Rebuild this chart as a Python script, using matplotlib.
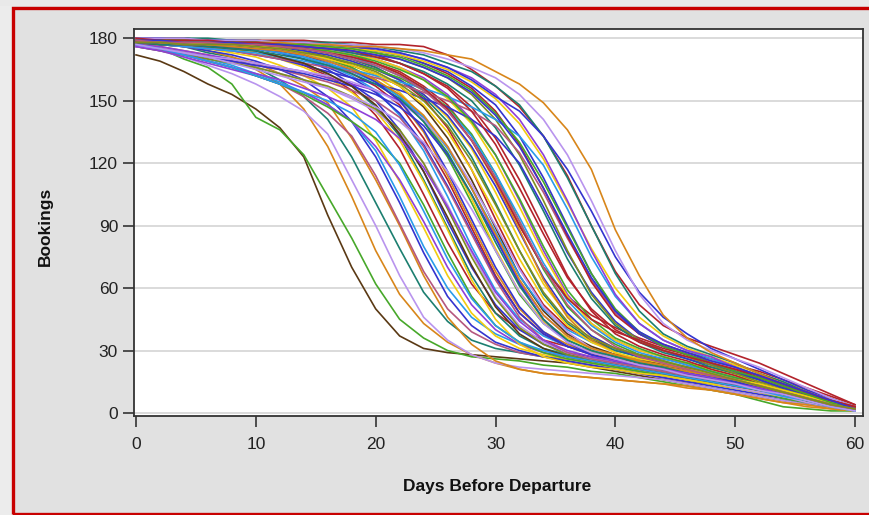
import matplotlib
matplotlib.use("Agg")
import matplotlib.pyplot as plt
from matplotlib.patches import Rectangle

# ---------------- data ----------------
days = list(range(0, 61, 2))
x_ticks = [0, 10, 20, 30, 40, 50, 60]
y_ticks = [0, 30, 60, 90, 120, 150, 180]
x_label = "Days Before Departure"
y_label = "Bookings"

palette = {
    "blue": "#3434CF", "red": "#B3232B", "teal": "#1C7F70", "brown": "#5A3914",
    "purple": "#8F3FD8", "olive": "#7F8E1F", "sky": "#2A9BEA", "pink": "#B5577F",
    "orange": "#D8861A", "green": "#47A82A", "lavender": "#B994EE", "yellow": "#F2CC10",
}

series_colors = [
    "brown", "green", "orange", "lavender", "teal", "orange", "pink", "blue", "sky", "yellow",
    "purple", "green", "red", "teal", "blue", "yellow", "lavender", "sky", "olive", "red",
    "blue", "orange", "pink", "green", "purple", "yellow", "brown", "sky", "red", "blue",
    "teal", "yellow", "lavender", "red", "blue", "green", "orange", "purple", "sky", "yellow",
    "red", "teal", "blue", "olive", "pink", "red", "blue", "sky", "yellow", "purple",
    "red", "teal", "blue", "lavender", "orange", "brown", "green", "teal", "red", "blue",
    "purple", "yellow", "green", "sky", "red", "orange", "blue", "lavender", "pink", "olive",
]

bookings = [
    [172,169,164,158,153,146,137,123,95,70,50,37,31,29,28,27,26,25,24,22,20,18,16,14,12,10,8,6,4,3,2],
    [178,175,170,166,158,142,136,124,104,84,62,45,36,30,27,26,25,23,22,20,19,17,15,13,11,9,6,3,2,1,1],
    [178,176,174,172,169,165,158,146,128,104,78,57,43,34,28,24,21,19,18,17,16,15,14,13,11,9,7,5,3,2,1],
    [177,174,171,167,163,158,152,145,134,112,90,66,46,35,28,24,22,21,20,19,18,17,16,14,12,10,8,6,4,3,2],
    [179,177,176,173,171,166,160,152,141,123,101,79,58,44,35,31,29,27,26,24,22,20,18,17,15,13,11,9,7,5,3],
    [179,177,176,174,171,168,163,157,149,132,112,90,66,46,33,25,21,19,18,17,16,15,14,12,11,9,7,5,4,2,1],
    [177,175,172,169,166,162,158,152,144,133,114,91,68,50,39,33,29,27,25,23,21,19,17,15,14,12,10,8,6,4,2],
    [179,178,176,174,172,169,165,160,152,140,123,101,77,56,42,34,30,27,25,23,21,19,17,15,13,11,9,7,5,3,2],
    [177,175,173,170,167,163,159,154,148,140,126,104,80,60,46,38,33,30,28,26,24,22,20,18,16,14,11,9,6,4,2],
    [179,178,177,175,173,171,167,162,156,147,131,111,89,66,48,37,31,28,26,24,22,20,18,16,14,12,10,8,6,4,2],
    [176,174,171,168,165,162,158,154,148,140,128,112,92,70,52,40,33,29,27,25,23,21,19,17,15,13,11,9,6,4,2],
    [177,175,172,169,166,162,158,153,147,140,132,120,100,77,56,42,34,29,26,24,22,20,18,16,14,12,10,7,5,3,1],
    [179,179,178,177,176,174,171,167,162,155,143,127,105,82,62,48,40,35,32,30,28,26,24,22,19,17,14,11,8,5,3],
    [179,178,178,177,175,174,171,168,163,157,147,133,112,89,66,48,37,31,28,26,24,22,20,18,16,14,12,9,7,4,2],
    [180,179,178,177,176,175,173,170,165,158,150,136,116,92,70,52,40,33,29,27,25,23,21,19,17,15,12,10,7,4,2],
    [178,177,177,176,175,173,170,166,161,154,145,131,111,88,64,45,33,27,24,22,21,19,18,16,14,12,10,8,6,3,1],
    [177,175,173,171,169,166,163,160,156,151,145,135,120,100,77,56,42,34,29,26,24,21,19,17,15,12,10,8,5,3,1],
    [179,178,178,177,176,175,174,171,167,162,155,143,126,104,80,59,45,37,32,29,27,25,23,21,19,16,14,11,8,5,2],
    [176,174,172,170,168,166,163,160,157,152,146,136,120,98,75,55,41,33,28,25,23,21,19,17,15,13,11,9,6,4,2],
    [179,179,178,178,177,176,174,172,168,163,157,148,132,112,89,66,48,38,32,28,26,24,22,20,18,15,13,10,7,4,2],
    [178,178,177,177,176,175,173,170,166,161,154,144,129,109,87,65,48,38,32,29,27,25,23,21,18,16,13,10,8,5,2],
    [179,178,178,177,177,176,175,173,170,166,159,150,135,114,91,68,50,39,33,29,26,23,21,19,17,15,12,10,7,4,2],
    [177,175,173,171,169,167,165,162,159,155,150,142,128,108,86,64,46,35,29,26,24,22,20,18,16,14,12,10,7,5,3],
    [179,178,178,178,177,176,175,173,170,166,160,152,140,123,101,78,57,43,35,30,27,25,22,19,17,14,11,9,6,4,2],
    [177,176,174,172,170,168,166,164,161,158,155,150,142,128,108,85,63,47,37,31,28,26,24,21,18,16,13,10,7,4,2],
    [179,179,178,178,177,176,175,174,171,167,162,154,142,125,103,79,58,44,36,31,28,26,24,22,20,17,15,12,9,6,3],
    [179,179,178,178,178,177,176,174,171,167,163,157,147,132,112,89,66,49,38,32,28,26,23,21,18,16,13,10,7,4,2],
    [178,178,177,176,176,175,173,171,168,164,159,152,142,127,108,87,66,50,40,34,30,27,25,22,20,17,14,11,8,5,2],
    [179,179,179,178,178,177,177,175,173,170,166,160,151,137,117,93,70,52,41,35,31,28,26,24,22,19,17,14,10,6,3],
    [177,175,173,171,169,167,165,163,160,157,153,147,138,124,105,84,62,45,34,28,25,23,21,19,17,15,12,10,7,4,2],
    [179,179,178,178,178,177,176,175,173,170,166,160,152,140,123,101,78,57,43,35,30,27,24,21,18,15,12,9,6,4,2],
    [178,178,178,177,177,176,175,174,172,169,165,160,153,142,127,106,83,62,47,37,31,28,25,22,19,17,14,11,8,5,2],
    [176,175,173,171,170,168,166,164,162,159,155,149,141,128,110,90,69,51,39,31,26,23,21,19,17,15,13,10,7,4,2],
    [180,179,179,178,178,178,177,176,174,172,168,164,157,148,133,113,90,70,56,47,41,36,32,28,24,20,16,12,8,5,3],
    [179,178,178,177,177,176,175,174,172,169,165,160,153,143,128,109,87,65,48,37,31,27,24,22,19,16,13,10,7,4,2],
    [178,178,177,177,176,176,175,173,171,168,165,161,155,147,134,115,92,69,51,40,33,28,25,21,18,15,12,9,6,3,1],
    [179,179,178,178,177,177,176,175,173,171,168,163,156,146,131,111,88,64,46,35,29,25,22,20,18,16,13,11,8,5,3],
    [180,179,179,178,178,178,177,176,175,173,170,166,161,153,141,124,102,78,57,43,35,30,27,23,20,16,13,10,7,4,2],
    [179,179,178,178,177,177,176,175,173,171,167,162,156,146,133,115,94,72,54,42,34,29,26,23,20,17,14,11,8,5,2],
    [178,178,178,177,177,176,176,175,174,172,170,166,160,151,139,121,99,76,56,43,35,30,27,24,21,18,15,12,8,5,2],
    [180,179,179,179,178,178,178,177,176,174,172,168,163,157,147,132,112,89,66,49,38,32,28,25,21,18,14,11,8,5,3],
    [179,179,178,178,178,177,177,176,175,173,171,168,164,158,150,137,119,97,74,55,42,34,29,26,22,19,16,12,9,5,2],
    [178,177,176,175,174,172,170,167,164,161,158,155,151,147,141,133,120,99,77,58,44,35,30,26,23,20,17,13,9,6,3],
    [180,180,179,179,178,178,178,177,176,175,173,170,166,161,153,141,124,102,78,57,43,35,30,27,23,19,15,12,8,5,2],
    [178,177,176,175,174,172,170,168,166,164,161,158,154,150,145,138,125,106,84,64,48,38,32,28,25,22,18,14,10,6,3],
    [180,180,180,179,179,179,178,178,177,176,174,172,168,163,156,145,129,108,85,63,47,38,33,29,26,23,20,16,12,8,4],
    [180,180,180,179,179,178,178,178,177,176,174,172,168,164,157,148,133,113,90,67,49,38,32,28,24,20,16,12,9,5,3],
    [178,177,176,175,174,173,171,169,167,165,162,159,156,152,147,141,133,119,98,75,56,43,35,30,26,22,18,14,10,6,3],
    [180,179,179,179,178,178,177,177,176,175,174,172,169,165,159,151,139,122,101,79,60,46,37,31,27,23,19,15,11,7,3],
    [180,180,180,179,179,178,178,178,177,176,175,173,170,166,161,153,141,124,102,78,57,43,35,30,27,22,18,14,10,6,3],
    [180,180,180,179,179,179,179,179,178,178,177,177,176,172,165,157,147,133,114,90,68,52,42,36,32,28,24,19,14,9,4],
    [180,180,180,180,179,179,178,178,178,177,176,174,172,168,164,157,148,133,113,90,67,49,38,32,28,24,19,15,10,6,3],
    [180,180,179,179,179,178,178,177,177,176,175,173,170,166,160,152,145,133,117,97,75,58,46,38,31,26,21,16,11,7,3],
    [180,180,180,179,179,179,178,178,177,177,176,175,173,170,166,161,153,141,124,102,78,57,43,35,30,26,22,17,12,7,3],
    [179,179,179,178,178,178,178,177,177,176,176,175,174,172,170,164,158,149,136,117,88,66,47,36,29,24,19,14,10,6,3],
    [178,177,177,176,175,174,171,168,163,157,148,134,116,94,71,51,38,31,27,25,23,21,19,17,15,13,11,9,6,4,2],
    [179,179,178,178,178,177,176,175,174,172,169,165,160,152,140,124,103,80,59,45,36,31,27,24,20,17,14,11,8,5,2],
    [178,177,177,176,175,174,172,170,167,163,158,151,140,125,105,82,61,45,35,30,27,24,22,19,17,14,12,9,7,4,2],
    [179,179,178,178,178,177,176,175,173,171,168,163,156,146,131,112,90,70,55,45,39,35,31,28,24,21,17,13,9,6,3],
    [178,178,177,177,176,175,174,172,169,165,159,150,136,116,93,70,51,39,32,28,25,23,21,19,17,15,12,10,7,4,2],
    [176,174,172,169,166,163,160,156,152,147,141,132,118,99,78,58,44,35,30,27,25,23,21,19,17,14,12,9,7,4,1],
    [179,178,178,177,177,176,175,173,170,167,163,157,148,135,117,96,74,55,42,34,29,26,24,21,19,16,14,11,8,5,2],
    [179,179,179,178,178,178,177,177,176,175,173,171,167,162,155,144,130,111,89,67,50,39,32,28,24,20,17,13,9,5,2],
    [177,175,172,169,166,162,158,154,150,144,135,119,97,74,55,42,34,30,27,25,23,21,19,17,15,13,11,8,6,3,1],
    [180,179,179,179,178,178,177,176,175,174,171,168,163,156,145,129,108,86,65,50,40,34,30,27,24,21,18,14,10,6,3],
    [178,178,177,177,176,175,174,172,169,165,160,153,143,128,108,86,64,47,37,31,28,25,23,21,18,16,13,10,7,4,2],
    [179,179,178,178,178,177,177,176,175,174,172,170,166,161,154,143,128,108,86,65,49,39,33,29,25,22,18,14,10,6,2],
    [177,175,173,171,168,165,162,159,156,152,147,140,130,116,98,78,58,43,34,29,26,23,21,18,16,14,11,9,6,3,1],
    [179,178,178,178,177,177,176,175,173,170,167,162,155,145,131,113,92,70,52,40,32,27,24,21,18,16,13,10,7,4,2],
    [178,178,177,177,177,176,175,173,171,168,164,158,150,138,121,100,78,58,44,36,31,28,25,22,19,16,13,10,7,4,2],
]

for i, b in enumerate(bookings):
    assert len(b) == len(days), (i, len(b))

# ---------------- figure ----------------
W, H = 870, 515
fig = plt.figure(figsize=(W / 100, H / 100), dpi=100, facecolor="#E1E1E1")
plt.rcParams["font.family"] = ["Liberation Sans", "DejaVu Sans"]

def px_rect(x0, y0, x1, y1, **kw):
    return Rectangle((x0 / W, 1 - y1 / H), (x1 - x0) / W, (y1 - y0) / H,
                     transform=fig.transFigure, **kw)

fig.patches.append(px_rect(0, 0, 12, H, facecolor="#ECECEC", edgecolor="none", zorder=0))
fig.patches.append(px_rect(0, 0, W, 6, facecolor="#E9E9E9", edgecolor="none", zorder=0))
fig.patches.append(px_rect(13.5, 8, W + 10, 513.5, facecolor="none",
                           edgecolor="#C80000", linewidth=2.4, zorder=1))

ax = fig.add_axes([134 / W, 1 - 415.7 / H, (863 - 134) / W, (415.7 - 29.5) / H])
ax.set_facecolor("white")

for b, cname in zip(bookings, series_colors):
    ax.plot(days, b, color=palette[cname], linewidth=1.2, solid_joinstyle="round", zorder=3)

ax.set_xlim(-0.17, 60.67)
ax.set_ylim(-1.3, 184.2)
ax.set_xticks(x_ticks)
ax.set_yticks(y_ticks)
ax.yaxis.grid(True, color="#D4D4D4", linewidth=1.2, zorder=1)
ax.set_axisbelow(True)

for s in ax.spines.values():
    s.set_color("#333333")
    s.set_linewidth(1.3)

ax.tick_params(axis="x", direction="out", length=8, width=1.2, color="#333333",
               labelsize=12.5, labelcolor="#222222", pad=7)
ax.tick_params(axis="y", direction="out", length=8, width=1.2, color="#333333",
               labelsize=12.5, labelcolor="#222222", pad=3.5)

fig.text(45 / W, 1 - 226 / H, y_label, rotation=90, ha="center", va="center",
         fontsize=12.5, fontweight="bold", color="#111111")
fig.text(497 / W, 1 - 487 / H, x_label, ha="center", va="center",
         fontsize=12.5, fontweight="bold", color="#111111")

fig.savefig("out.png", dpi=100, facecolor=fig.get_facecolor())
